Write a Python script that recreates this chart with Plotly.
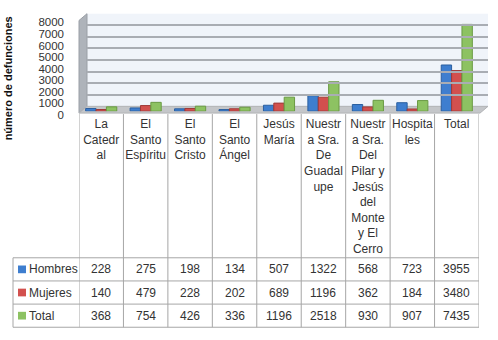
import plotly.graph_objects as go

# ---------------- data ----------------
categories = [
    "La<br>Catedr<br>al",
    "El<br>Santo<br>Espíritu",
    "El<br>Santo<br>Cristo",
    "El<br>Santo<br>Ángel",
    "Jesús<br>María",
    "Nuestr<br>a Sra.<br>De<br>Guadal<br>upe",
    "Nuestr<br>a Sra.<br>Del<br>Pilar y<br>Jesús<br>del<br>Monte<br>y El<br>Cerro",
    "Hospita<br>les",
    "Total",
]
series_names = ["Hombres", "Mujeres", "Total"]
hombres = [228, 275, 198, 134, 507, 1322, 568, 723, 3955]
mujeres = [140, 479, 228, 202, 689, 1196, 362, 184, 3480]
total = [368, 754, 426, 336, 1196, 2518, 930, 907, 7435]
y_ticks = [0, 1000, 2000, 3000, 4000, 5000, 6000, 7000, 8000]
y_title = "número de defunciones"

# ---------------- style ----------------
W, H = 498, 340
colors = ["#3E7ECF", "#D2504E", "#8DC262"]
edge = ["#2B5F9F", "#9E3A38", "#6A9A44"]
grid_c = "#A9ADB3"
table_c = "#A6A6A6"
txt_c = "#333333"
FONT = "Liberation Sans, Arial, sans-serif"


def px(x):
    return x / W


def py(y):
    return 1 - y / H


series = [hombres, mujeres, total]
fig = go.Figure()
for name, vals, c, e in zip(series_names, series, colors, edge):
    fig.add_trace(go.Bar(
        x=list(range(len(categories))), y=vals, name=name,
        marker=dict(color=c, line=dict(color=e, width=1)),
        showlegend=False, hoverinfo="skip",
    ))

# invisible traces to create the back-wall grid subplot and the tick-label axis
fig.add_trace(go.Scatter(x=[None], y=[None], xaxis="x2", yaxis="y2",
                         showlegend=False, hoverinfo="skip"))
fig.add_trace(go.Scatter(x=[None], y=[None], xaxis="x3", yaxis="y3",
                         showlegend=False, hoverinfo="skip"))

shapes = []
# back wall
shapes.append(dict(type="rect", xref="paper", yref="paper", layer="below",
                   x0=px(87), x1=px(488), y0=py(104), y1=py(8),
                   fillcolor="#F0F4FA", line=dict(width=0)))
# left wall
shapes.append(dict(type="path", xref="paper", yref="paper", layer="below",
                   path=f"M {px(79)},{py(15)} L {px(87)},{py(8)} L {px(87)},{py(104)} L {px(79)},{py(111)} Z",
                   fillcolor="#AEB3BA", line=dict(color="#9A9FA6", width=1)))
# floor
shapes.append(dict(type="path", xref="paper", yref="paper", layer="below",
                   path=f"M {px(79)},{py(111)} L {px(87)},{py(104)} L {px(488)},{py(104)} L {px(480)},{py(111)} Z",
                   fillcolor="#C4C6C9", line=dict(color="#B0B2B5", width=1)))

# table column lines (category boundaries on the x axis)
n = len(categories)
for i in range(n + 1):
    shapes.append(dict(type="line", xref="x", yref="paper",
                       x0=i - 0.5, x1=i - 0.5, y0=py(112), y1=py(333),
                       line=dict(color=table_c, width=1)))
# table row lines
for yy in [261, 285, 309, 333]:
    shapes.append(dict(type="line", xref="paper", yref="paper",
                       x0=px(13), x1=px(479), y0=py(yy), y1=py(yy),
                       line=dict(color=table_c, width=1)))
shapes.append(dict(type="line", xref="paper", yref="paper",
                   x0=px(13), x1=px(13), y0=py(261), y1=py(333),
                   line=dict(color=table_c, width=1)))

annotations = []
row_y = [273, 297, 321]
for r, (name, vals, c) in enumerate(zip(series_names, series, colors)):
    cy = row_y[r]
    shapes.append(dict(type="rect", xref="paper", yref="paper",
                       x0=px(18), x1=px(26), y0=py(cy - 4), y1=py(cy + 4),
                       fillcolor=c, line=dict(color=c, width=0)))
    annotations.append(dict(xref="paper", yref="paper", x=px(27), y=py(cy),
                            text=name, showarrow=False, xanchor="left", yanchor="middle",
                            font=dict(size=12, color=txt_c, family=FONT)))
    for i, v in enumerate(vals):
        annotations.append(dict(xref="x", yref="paper", x=i, y=py(cy),
                                text=str(v), showarrow=False, xanchor="center", yanchor="middle",
                                font=dict(size=12, color=txt_c, family=FONT)))

annotations.append(dict(xref="paper", yref="paper", x=px(8), y=py(75),
                        text=f"<b>{y_title}</b>", textangle=-90, showarrow=False,
                        xanchor="center", yanchor="middle",
                        font=dict(size=11, color="#111111", family=FONT)))

fig.update_layout(
    width=W, height=H,
    margin=dict(l=0, r=0, t=0, b=0),
    paper_bgcolor="white", plot_bgcolor="rgba(0,0,0,0)",
    barmode="group", bargap=0.3, bargroupgap=0.0,
    font=dict(family=FONT, size=12, color=txt_c),
    shapes=shapes, annotations=annotations,
    xaxis=dict(domain=[px(79), px(479)], range=[-0.5, n - 0.5],
               tickmode="array", tickvals=list(range(n)), ticktext=categories,
               showgrid=False, zeroline=False, showline=False, ticks="",
               ticklabelstandoff=4,
               tickfont=dict(size=12, color=txt_c, family=FONT), anchor="y"),
    yaxis=dict(domain=[py(109), py(8)], range=[0, 8350],
               showgrid=False, zeroline=False, showline=False,
               showticklabels=False, ticks="", anchor="x"),
    xaxis2=dict(domain=[px(87), px(488)], range=[0, 1], visible=False, anchor="y2"),
    yaxis2=dict(domain=[py(104), py(8)], range=[0, 8000], tickvals=y_ticks,
                showgrid=True, gridcolor=grid_c, gridwidth=1.5,
                zeroline=False, showline=False, showticklabels=False,
                ticks="", anchor="x2"),
    xaxis3=dict(domain=[px(79), px(80)], range=[0, 1], visible=False, anchor="y3"),
    yaxis3=dict(domain=[py(113), py(17)], range=[0, 8000], tickvals=y_ticks,
                showgrid=False, zeroline=False, showline=False, ticks="",
                ticklabelstandoff=14,
                tickfont=dict(size=11.5, color=txt_c, family=FONT), anchor="x3"),
)

fig.write_html("out.html", config={"displayModeBar": False},
               post_script="document.body.style.margin='0';document.body.style.padding='0';")
